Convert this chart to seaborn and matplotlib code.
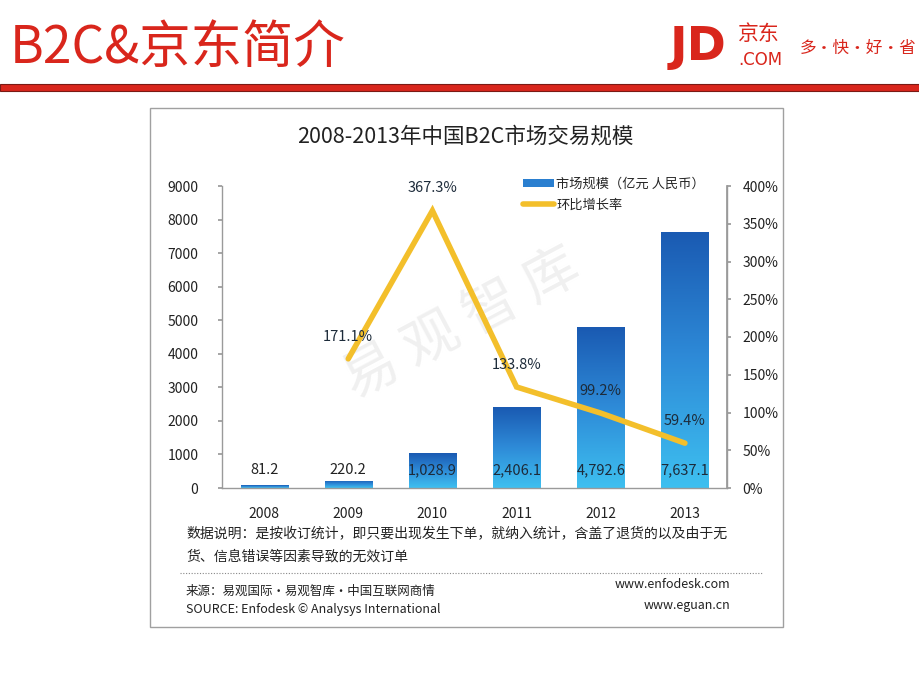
import numpy as np
import pandas as pd
import matplotlib
matplotlib.use("Agg")
import matplotlib.pyplot as plt
import seaborn as sns
from matplotlib.patches import Rectangle, Patch
from matplotlib.lines import Line2D
from matplotlib.colors import LinearSegmentedColormap

# ---- data ----
years = ["2008", "2009", "2010", "2011", "2012", "2013"]
market_size = [81.2, 220.2, 1028.9, 2406.1, 4792.6, 7637.1]
growth_years = ["2009", "2010", "2011", "2012", "2013"]
growth_rate = [171.1, 367.3, 133.8, 99.2, 59.4]
left_ticks = [0, 1000, 2000, 3000, 4000, 5000, 6000, 7000, 8000, 9000]
right_ticks = [0, 50, 100, 150, 200, 250, 300, 350, 400]

slide_title = "B2C&京东简介"
chart_title = "2008-2013年中国B2C市场交易规模"
legend_bar = "市场规模（亿元 人民币）"
legend_line = "环比增长率"
note_1 = "数据说明：是按收订统计，即只要出现发生下单，就纳入统计，含盖了退货的以及由于无"
note_2 = "货、信息错误等因素导致的无效订单"
source_cn = "来源：易观国际·易观智库·中国互联网商情"
source_en = "SOURCE: Enfodesk © Analysys International"
url_1 = "www.enfodesk.com"
url_2 = "www.eguan.cn"
watermark = "易 观 智 库"

sns.set_theme(style="white")
plt.rcParams["font.family"] = ["Noto Sans CJK SC", "DejaVu Sans"]

W, H = 920, 690
fig = plt.figure(figsize=(9.2, 6.9), dpi=100)
fig.patch.set_facecolor("white")

def fx(px):
    return px / W

def fy(py):
    return 1 - py / H

RED = "#D9261C"
# slide header
fig.text(fx(10), fy(48), slide_title, color=RED, fontsize=37, va="center", ha="left")
fig.patches.append(Rectangle((0, fy(91)), 1, fy(84) - fy(91), transform=fig.transFigure,
                             facecolor=RED, edgecolor="#7a1a14", linewidth=0.8, zorder=0))
# JD logo (text approximation)
fig.text(fx(670), fy(48), "JD", color=RED, fontsize=34, fontweight="bold", va="center",
         ha="left", family=["DejaVu Sans"])
fig.text(fx(738), fy(34), "京东", color=RED, fontsize=15, va="center", ha="left")
fig.text(fx(738), fy(60), ".COM", color=RED, fontsize=12, va="center", ha="left",
         family=["DejaVu Sans"])
fig.text(fx(800), fy(48), "多·快·好·省", color=RED, fontsize=12, va="center", ha="left")

# chart frame
fig.patches.append(Rectangle((fx(150), fy(627)), fx(783) - fx(150), fy(108) - fy(627),
                             transform=fig.transFigure, facecolor="white",
                             edgecolor="#a0a0a0", linewidth=1.0, zorder=0))
fig.text(fx(465), fy(137), chart_title, fontsize=15.5, ha="center", va="center", color="#222222")

# watermark
fig.text(fx(462), fy(325), watermark, fontsize=40, rotation=28, ha="center", va="center",
         color="#f0f0f0", zorder=0.5)

ax = fig.add_axes([fx(222), fy(488), fx(727) - fx(222), fy(186) - fy(488)])
ax.set_zorder(2)
ax.patch.set_alpha(0)

df = pd.DataFrame({"year": years, "size": market_size})
sns.barplot(data=df, x="year", y="size", ax=ax, color="#2a7fd0", width=0.56, saturation=1)
ax.set_ylim(0, 9000)
ax.set_xlim(-0.5, len(years) - 0.5)
ax.set_yticks(left_ticks)
ax.set_yticklabels([str(t) for t in left_ticks])
ax.set_xlabel("")
ax.set_ylabel("")

# gradient fill for bars
cmap = LinearSegmentedColormap.from_list("g", ["#3EC0F0", "#2E8BD8", "#1A5AB2"])
grad = np.linspace(0, 1, 256).reshape(-1, 1)
for p in list(ax.patches):
    x0, y0 = p.get_x(), p.get_y()
    w, h = p.get_width(), p.get_height()
    im = ax.imshow(grad, extent=[x0, x0 + w, y0, y0 + h], origin="lower", aspect="auto",
                   cmap=cmap, zorder=2)
    im.set_clip_path(p)
    p.set_facecolor("none")
    p.set_edgecolor("none")
ax.set_xlim(-0.5, len(years) - 0.5)
ax.set_ylim(0, 9000)

for i, v in enumerate(market_size):
    ax.text(i, 540, f"{v:,.1f}", ha="center", va="center", fontsize=10.5,
            color="#1d2b3a" if v > 500 else "#222222", zorder=5)

ax.spines["top"].set_visible(False)
for s in ["left", "bottom", "right"]:
    ax.spines[s].set_color("#9a9a9a")
    ax.spines[s].set_linewidth(1.0)
ax.tick_params(axis="y", which="both", left=True, direction="out", length=3,
               color="#9a9a9a", labelsize=10, labelcolor="#222222", pad=14)
ax.tick_params(axis="x", bottom=False, labelsize=10, labelcolor="#222222", pad=8)
ax.grid(False)

ax2 = ax.twinx()
ax2.set_zorder(3)
ax2.patch.set_alpha(0)
pos = [years.index(y) for y in growth_years]
sns.lineplot(x=pos, y=growth_rate, ax=ax2, color="#F3BF2B", linewidth=4, zorder=4,
             solid_capstyle="round", solid_joinstyle="miter")
ax2.set_ylim(0, 400)
ax2.set_xlim(-0.5, len(years) - 0.5)
ax2.set_yticks(right_ticks)
ax2.set_yticklabels([f"{t}%" for t in right_ticks])
for s in ["top", "left", "bottom"]:
    ax2.spines[s].set_visible(False)
ax2.spines["right"].set_color("#9a9a9a")
ax2.tick_params(axis="y", right=True, direction="out", length=3, color="#9a9a9a",
                labelsize=10, labelcolor="#222222", pad=8)
ax2.grid(False)
for xp, g in zip(pos, growth_rate):
    ax2.annotate(f"{g:.1f}%", (xp, g), xytext=(0, 16), textcoords="offset points",
                 ha="center", va="center", fontsize=10.5, color="#1d2b3a", zorder=6)

handles = [Patch(facecolor="#2a7fd0", edgecolor="none"),
           Line2D([0], [0], color="#F3BF2B", linewidth=4)]
leg = ax2.legend(handles, [legend_bar, legend_line], loc="upper left",
                 bbox_to_anchor=((518 - 222) / (727 - 222), 1.045),
                 frameon=False, fontsize=9.5, handlelength=2.3, handleheight=0.5,
                 handletextpad=0.2, labelspacing=0.6, borderaxespad=0)

# notes
fig.text(fx(186), fy(533), note_1, fontsize=10, ha="left", va="center", color="#222222")
fig.text(fx(186), fy(557), note_2, fontsize=10, ha="left", va="center", color="#222222")
fig.lines.append(Line2D([fx(180), fx(762)], [fy(573), fy(573)], transform=fig.transFigure,
                        color="#888888", linewidth=0.8, linestyle=(0, (1, 1.5))))
fig.text(fx(186), fy(591), source_cn, fontsize=9, ha="left", va="center", color="#222222")
fig.text(fx(186), fy(610), source_en, fontsize=9, ha="left", va="center", color="#222222")
fig.text(fx(730), fy(585), url_1, fontsize=9, ha="right", va="center", color="#222222")
fig.text(fx(730), fy(606), url_2, fontsize=9, ha="right", va="center", color="#222222")

fig.savefig("out.png", dpi=100)
